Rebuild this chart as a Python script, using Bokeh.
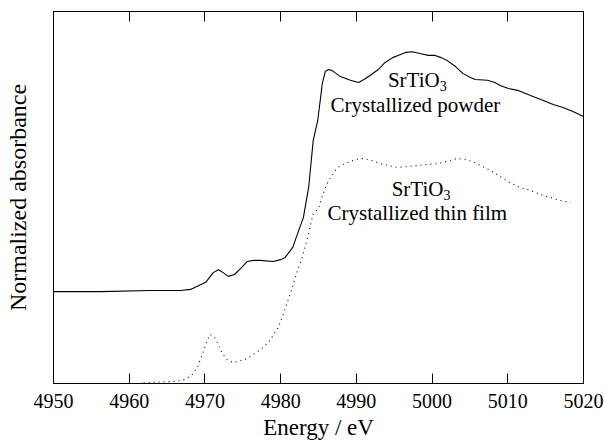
from bokeh.plotting import figure
from bokeh.models import LinearAxis, FixedTicker
from bokeh.core.properties import value
from bokeh.embed import file_html
from bokeh.resources import INLINE

# Crystallized powder (solid)
powder_e = [4950.0, 4956.2, 4962.8, 4966.8, 4968.1, 4970.1, 4971.1, 4971.8, 4972.4, 4973.1,
            4973.9, 4974.7, 4975.6, 4976.4, 4977.3, 4979.0, 4980.0, 4980.6, 4981.6, 4982.2,
            4983.0, 4983.7, 4984.3, 4984.9, 4985.5, 4985.9, 4986.3, 4986.8, 4987.9, 4989.2,
            4990.3, 4991.0, 4991.8, 4992.9, 4993.8, 4994.8, 4995.5, 4996.5, 4997.4, 4998.4,
            4999.5, 5000.4, 5001.2, 5002.0, 5003.1, 5004.1, 5005.0, 5005.7, 5007.3, 5008.3,
            5009.0, 5010.1, 5011.3, 5013.0, 5014.7, 5016.0, 5017.3, 5018.6, 5020.0]
powder_a = [0.247, 0.247, 0.250, 0.250, 0.253, 0.272, 0.298, 0.306, 0.298, 0.288,
            0.293, 0.309, 0.328, 0.331, 0.331, 0.328, 0.333, 0.339, 0.366, 0.401,
            0.446, 0.527, 0.653, 0.707, 0.806, 0.839, 0.844, 0.841, 0.825, 0.815,
            0.809, 0.817, 0.828, 0.844, 0.863, 0.876, 0.882, 0.890, 0.892, 0.887,
            0.882, 0.882, 0.876, 0.868, 0.852, 0.833, 0.823, 0.817, 0.815, 0.809,
            0.801, 0.793, 0.788, 0.774, 0.761, 0.750, 0.742, 0.731, 0.718]

# Crystallized thin film (dotted)
film_e = [4961.9, 4963.1, 4963.9, 4965.0, 4965.7, 4966.8, 4967.4, 4968.3, 4969.0, 4969.7,
          4970.3, 4970.7, 4971.4, 4971.8, 4972.3, 4973.0, 4973.8, 4974.7, 4975.6, 4976.4,
          4977.3, 4978.3, 4978.9, 4979.6, 4980.0, 4980.6, 4981.3, 4982.1, 4983.0, 4983.7,
          4984.3, 4985.0, 4985.5, 4986.0, 4986.6, 4987.2, 4987.9, 4988.8, 4989.9, 4990.9,
          4992.1, 4993.2, 4994.2, 4995.4, 4996.7, 4998.1, 4999.4, 5000.7, 5002.0, 5003.3,
          5004.4, 5005.3, 5006.4, 5007.7, 5009.0, 5010.3, 5011.6, 5013.0, 5014.3, 5015.6,
          5016.9, 5018.3]
film_a = [0.002, 0.003, 0.004, 0.005, 0.005, 0.008, 0.011, 0.024, 0.043, 0.081,
          0.116, 0.132, 0.121, 0.102, 0.081, 0.062, 0.056, 0.062, 0.067, 0.078,
          0.091, 0.108, 0.126, 0.148, 0.167, 0.202, 0.242, 0.296, 0.349, 0.403,
          0.457, 0.470, 0.503, 0.532, 0.554, 0.573, 0.586, 0.594, 0.602, 0.605,
          0.599, 0.591, 0.586, 0.581, 0.583, 0.586, 0.589, 0.591, 0.597, 0.605,
          0.602, 0.597, 0.586, 0.573, 0.556, 0.540, 0.527, 0.519, 0.508, 0.500,
          0.492, 0.487]

x_ticks = [4950, 4960, 4970, 4980, 4990, 5000, 5010, 5020]

FONT = "Liberation Serif"

p = figure(width=604, height=444, x_range=(4950, 5020), y_range=(0, 1),
           output_backend="svg", toolbar_location=None,
           min_border_left=53, min_border_right=21, min_border_top=11, min_border_bottom=61)
p.background_fill_color = "white"
p.border_fill_color = "white"
p.outline_line_color = "black"
p.outline_line_width = 1
p.grid.visible = False

xa = p.xaxis[0]
xa.ticker = FixedTicker(ticks=x_ticks)
xa.major_tick_in = 10
xa.major_tick_out = 0
xa.minor_tick_line_color = None
xa.axis_line_color = "black"
xa.major_tick_line_color = "black"
xa.major_label_text_font = FONT
xa.major_label_text_font_size = "20px"
xa.major_label_text_color = "black"
xa.major_label_standoff = 10
xa.axis_label = "Energy / eV"
xa.axis_label_text_font = FONT
xa.axis_label_text_font_size = "23px"
xa.axis_label_text_font_style = "normal"
xa.axis_label_text_color = "black"
xa.axis_label_standoff = 4

ya = p.yaxis[0]
ya.ticker = FixedTicker(ticks=[])
ya.major_tick_line_color = None
ya.minor_tick_line_color = None
ya.axis_line_color = "black"
ya.axis_label = "Normalized absorbance"
ya.axis_label_text_font = FONT
ya.axis_label_text_font_size = "24px"
ya.axis_label_text_font_style = "normal"
ya.axis_label_text_color = "black"
ya.axis_label_standoff = 23

top = LinearAxis(ticker=FixedTicker(ticks=x_ticks), major_tick_in=10, major_tick_out=0,
                 minor_tick_line_color=None,
                 major_label_overrides={t: "" for t in x_ticks},
                 axis_line_color="black", major_tick_line_color="black")
p.add_layout(top, "above")

p.line(powder_e, powder_a, line_color="black", line_width=1.1)
p.line(film_e, film_a, line_color="black", line_width=1.1, line_dash="1 4")

txt = dict(text_font=value(FONT), text_color="black", text_baseline="alphabetic")
p.text(x=[5001.0], y=[0.815], text=["SrTiO"], text_align="right", text_font_size="21px", **txt)
p.text(x=[5001.0], y=[0.815], text=["3"], text_align="left", text_font_size="14px", y_offset=6, **txt)
p.text(x=[4997.8], y=[0.750], text=["Crystallized powder"], text_align="center", text_font_size="21px", **txt)
p.text(x=[5001.5], y=[0.523], text=["SrTiO"], text_align="right", text_font_size="21px", **txt)
p.text(x=[5001.5], y=[0.523], text=["3"], text_align="left", text_font_size="14px", y_offset=6, **txt)
p.text(x=[4998.05], y=[0.458], text=["Crystallized thin film"], text_align="center", text_font_size="21px", **txt)

open("out.html", "w").write(file_html(p, INLINE))
